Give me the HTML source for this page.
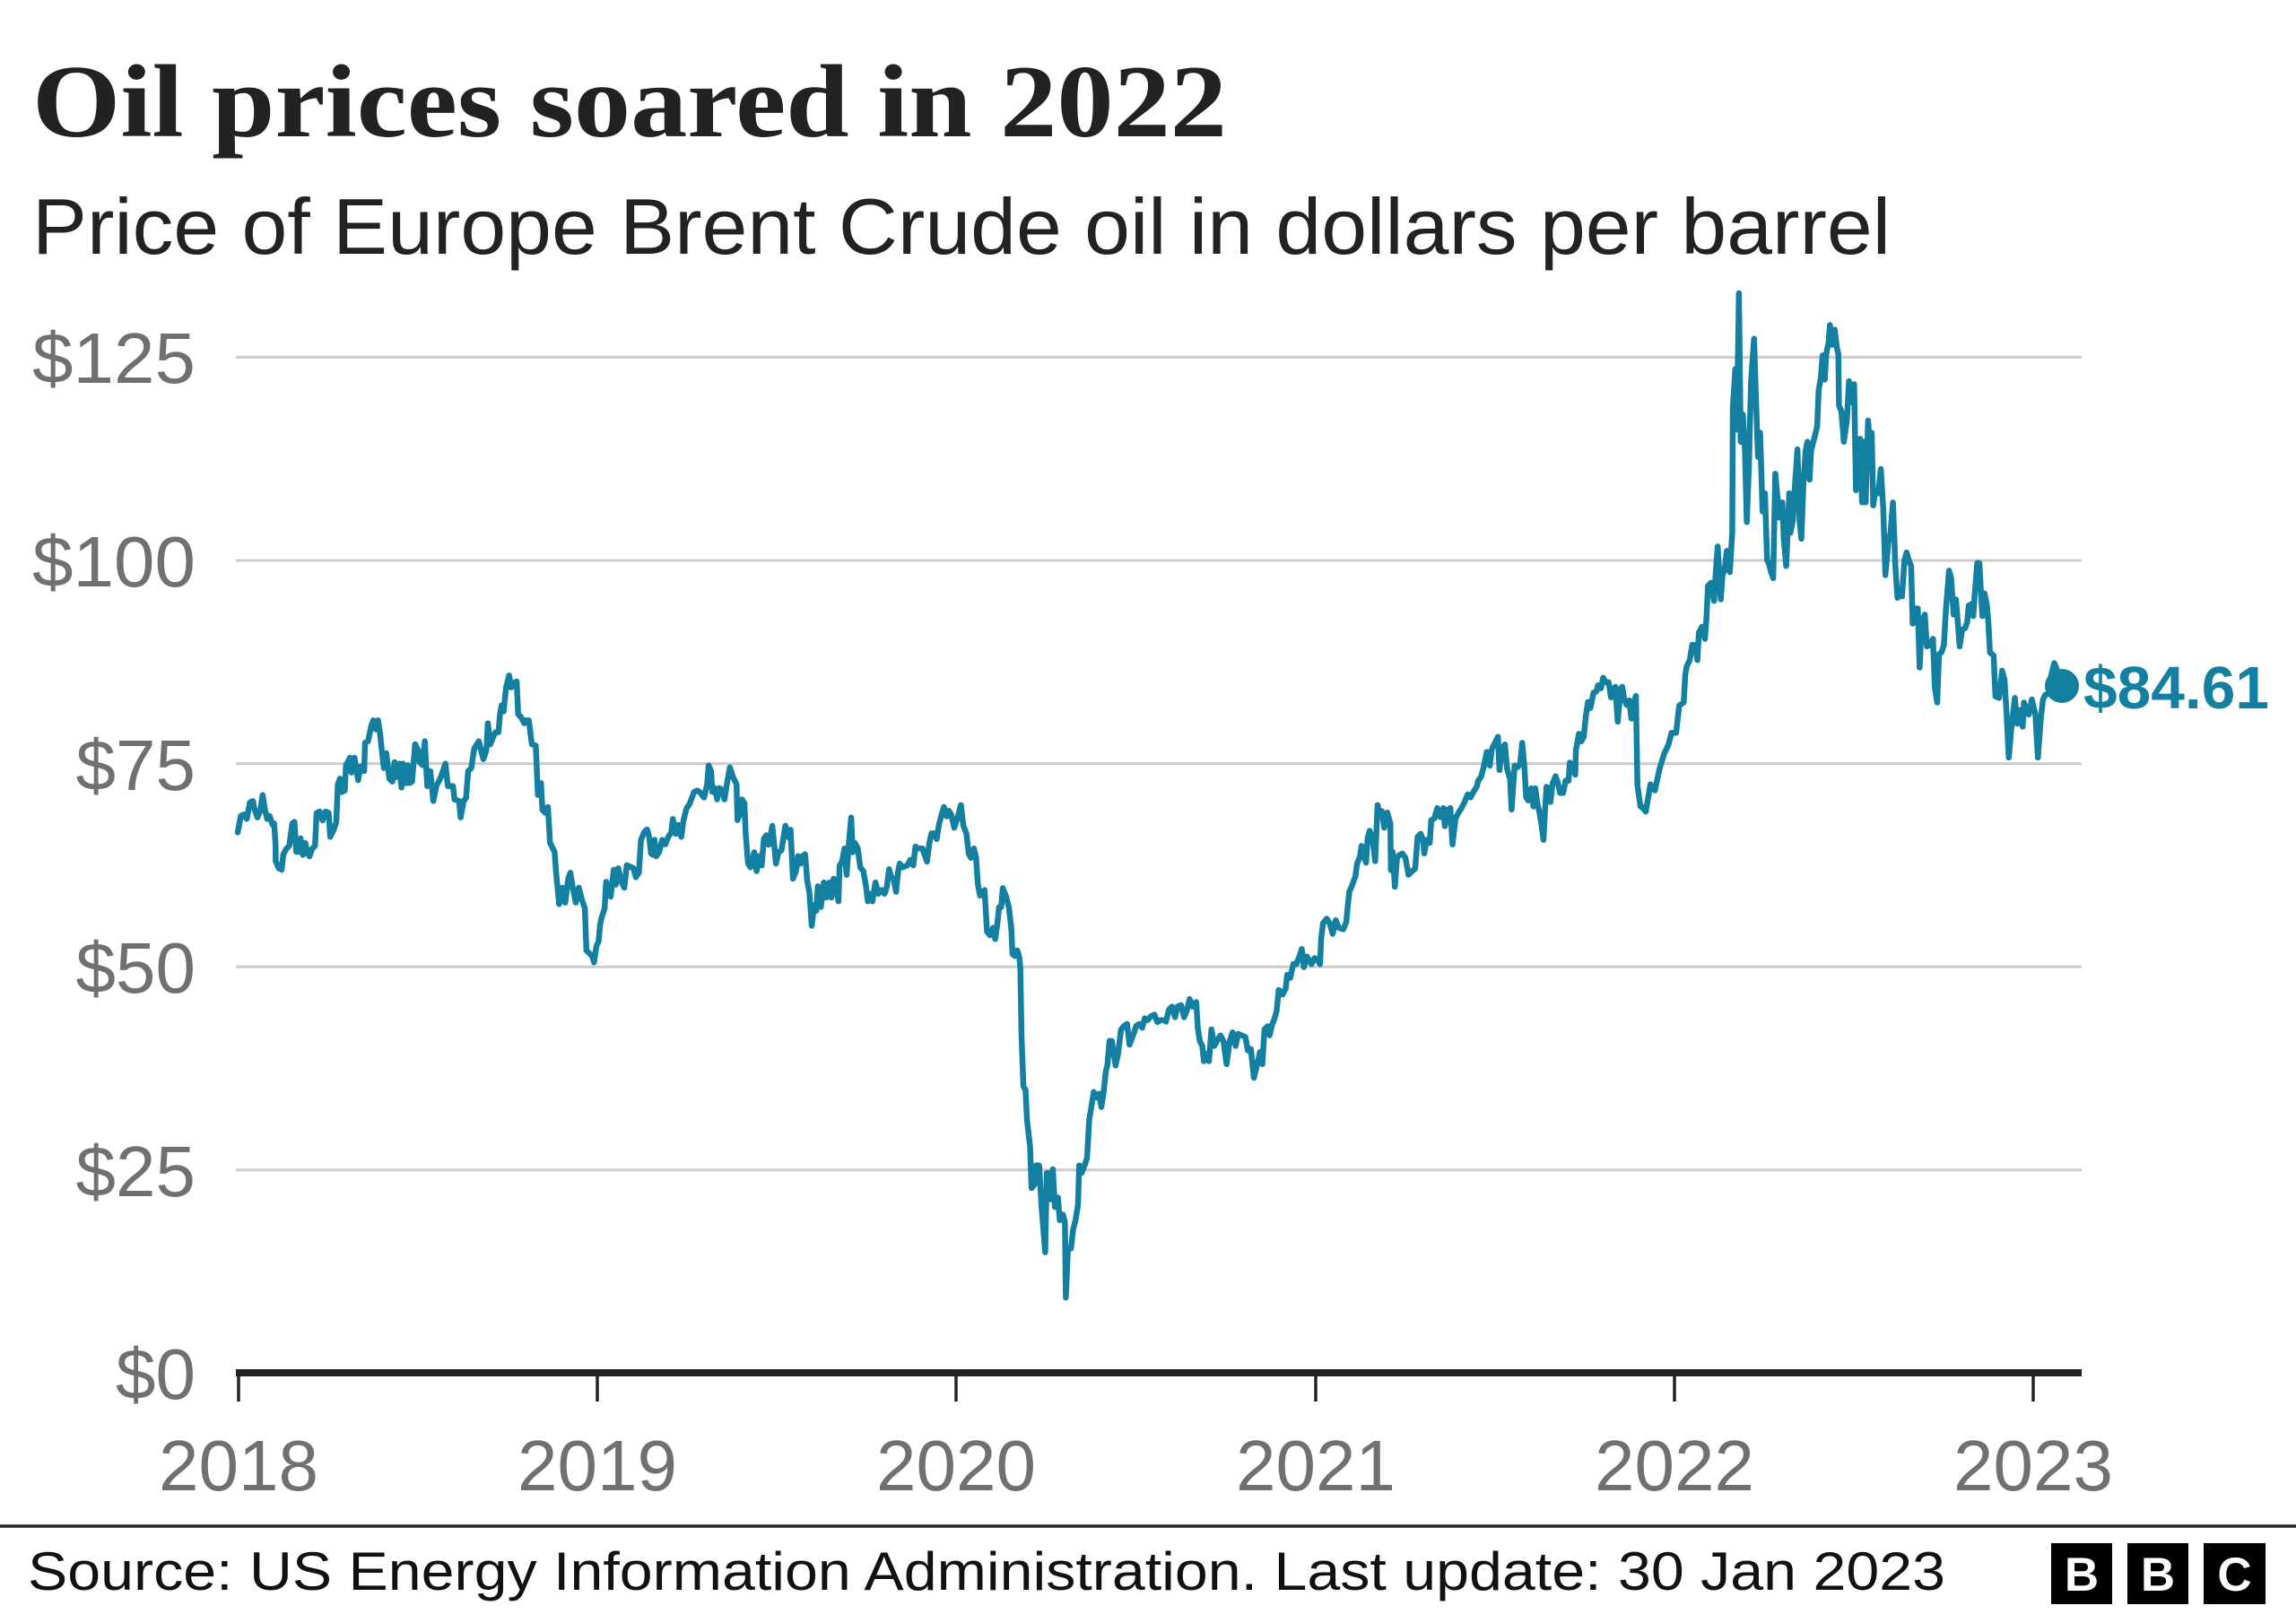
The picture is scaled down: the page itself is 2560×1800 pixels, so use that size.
<!DOCTYPE html>
<html>
<head>
<meta charset="utf-8">
<style>
  html, body { margin: 0; padding: 0; background: #ffffff; }
  body { width: 2560px; height: 1800px; overflow: hidden; }
  svg { display: block; }
</style>
</head>
<body>
<svg width="2560" height="1800" viewBox="0 0 2560 1800" xmlns="http://www.w3.org/2000/svg">
  <rect x="0" y="0" width="2560" height="1800" fill="#ffffff"/>

  <!-- Title & subtitle -->
  <text x="36" y="152" font-family="'Liberation Serif', serif" font-weight="bold" font-size="116" fill="#222222" textLength="1332" lengthAdjust="spacingAndGlyphs">Oil prices soared in 2022</text>
  <text x="36" y="283" font-family="'Liberation Sans', sans-serif" font-size="88" fill="#222222" textLength="2072" lengthAdjust="spacingAndGlyphs">Price of Europe Brent Crude oil in dollars per barrel</text>

  <!-- Gridlines -->
  <g stroke="#cccccc" stroke-width="3">
    <line x1="263" y1="398.4" x2="2321" y2="398.4"/>
    <line x1="263" y1="625" x2="2321" y2="625"/>
    <line x1="263" y1="851.6" x2="2321" y2="851.6"/>
    <line x1="263" y1="1078.2" x2="2321" y2="1078.2"/>
    <line x1="263" y1="1304.8" x2="2321" y2="1304.8"/>
  </g>

  <!-- Y labels -->
  <g font-family="'Liberation Sans', sans-serif" font-size="80" fill="#707070" text-anchor="end">
    <text x="218" y="427" textLength="182" lengthAdjust="spacingAndGlyphs">$125</text>
    <text x="218" y="654" textLength="182" lengthAdjust="spacingAndGlyphs">$100</text>
    <text x="218" y="881">$75</text>
    <text x="218" y="1107">$50</text>
    <text x="218" y="1334">$25</text>
    <text x="218" y="1560">$0</text>
  </g>

  <!-- Series -->
  <g fill="none" stroke="#1380A1" stroke-width="6.5" stroke-linejoin="round" stroke-linecap="round">
    <polyline vector-effect="non-scaling-stroke" transform="translate(260,720) scale(0.33807,0.33333)" points="15,625 25,570 35,565 45,580 55,525 65,520 70,545 80,575 90,550 97,500 105,550 112,580 120,570 130,600 135,595 140,670 140,720 150,745 160,750 165,700 175,680 185,670 195,595 202,590 208,690 215,690 222,645 230,700 238,660 245,695 252,705 260,680 270,670 275,560 285,555 295,585 305,555 315,560 320,640 330,620 340,590 345,465 352,445 358,490 368,485 372,400 385,375 390,425 400,375 412,450 420,405 432,420 435,325 445,320 455,270 462,250 470,280 478,250 485,300 490,350 497,410 505,360 515,445 525,455 532,390 540,440 548,395 555,475 560,395 570,460 575,400 582,460 590,455 600,330 610,350 615,390 625,400 632,320 640,470 650,420 660,520 670,470 685,440 700,395 708,470 718,470 725,470 730,515 745,520 750,575 760,520 768,510 775,420 785,410 795,345 810,320 825,380 835,350 840,260 848,330 858,305 865,290 875,290 880,230 885,200 892,220 900,140 910,100 917,140 925,125 935,120 940,230 950,240 960,260 965,250 975,250 985,330 998,335 1005,500 1015,460 1020,550 1030,560 1038,540 1045,660 1050,670 1060,690 1065,760 1075,865 1085,810 1095,860 1105,780 1112,760 1120,810 1130,860 1140,810 1150,850 1160,880 1162,940 1165,1020 1175,1030 1185,1040 1190,1060 1198,1005 1205,990 1210,935 1215,910 1225,880 1230,790 1238,830 1245,840 1255,750 1262,800 1270,745 1280,790 1290,810 1298,735 1310,740 1320,745 1328,775 1338,760 1345,650 1355,625 1365,615 1372,640 1378,695 1385,700 1390,650 1395,705 1405,690 1415,650 1425,665 1435,640 1445,625 1450,580 1460,630 1468,600 1478,640 1485,585 1495,545 1505,530 1520,490 1530,485 1538,489"/>
    <polyline vector-effect="non-scaling-stroke" transform="translate(780,820) scale(0.33807,0.42088)" points="0,150 15,165 25,130 30,80 38,95 42,150 50,140 58,170 65,140 75,145 82,170 90,130 100,85 110,110 122,130 125,225 135,205 140,170 148,180 152,260 160,340 168,350 175,330 180,310 188,360 195,320 205,345 212,275 220,265 228,290 240,240 252,340 260,310 270,305 283,240 292,270 300,250 308,380 318,360 325,320 333,340 340,320 348,315 355,385 362,415 370,505 378,450 385,465 390,400 400,455 410,390 418,430 428,390 435,430 442,380 450,395 458,440 462,345 470,335 478,300 485,370 492,290 500,218 505,310 512,285 522,300 530,350 540,360 548,395 555,440 562,420 570,440 580,390 590,420 600,410 610,420 618,400 625,355 632,375 640,380 648,415 655,360 660,340 670,350 685,345 695,330 705,345 712,295 722,300 735,300 750,335 758,285 765,260 775,260 782,275 790,235 800,205 806,190 815,215 822,200 830,210 840,245 852,215 862,185 870,240 880,260 888,315 895,325 905,300 912,325 918,395 925,425 935,415 940,410 948,520 958,530 968,510 975,540 982,500 988,455 995,455 1000,405 1010,425 1020,455 1028,510 1032,580 1040,585 1048,570 1055,590 1058,620 1062,800 1068,930 1075,940 1080,1020 1090,1090 1095,1200 1105,1190 1110,1140 1120,1140 1128,1250 1140,1370 1145,1160 1152,1160 1158,1230 1165,1150 1172,1250 1182,1225 1188,1285 1198,1270 1205,1290 1208,1490 1215,1360 1225,1360 1232,1310 1240,1285 1248,1245 1252,1140 1260,1160 1270,1140 1278,1120 1285,1020 1295,970 1300,945 1310,960 1318,950 1325,985 1332,950 1340,890 1345,875 1352,810 1360,810 1365,840 1372,875 1380,845 1390,780 1400,770 1410,765 1418,820 1425,805 1432,790 1440,770 1450,765 1460,775 1468,750 1478,755 1488,745 1500,740 1510,760 1520,755 1535,755 1538,758"/>
    <polyline vector-effect="non-scaling-stroke" transform="translate(1300,700) scale(0.33807,0.33807)" points="0,1300 10,1260 20,1250 30,1285 38,1250 50,1245 60,1285 70,1260 78,1225 88,1250 100,1235 105,1320 112,1365 120,1380 125,1430 135,1405 142,1430 150,1325 160,1380 170,1360 180,1345 190,1365 200,1440 210,1365 220,1335 230,1380 238,1340 250,1345 262,1350 270,1395 280,1390 290,1485 300,1445 310,1400 318,1440 325,1325 335,1315 342,1345 350,1310 358,1290 365,1265 372,1195 385,1210 395,1190 400,1145 410,1155 420,1110 430,1110 440,1085 448,1060 455,1120 465,1085 480,1110 490,1090 500,1095 508,1110 512,1025 518,975 530,960 540,975 550,1010 560,965 570,990 585,995 595,970 600,915 605,870 612,855 625,820 630,780 640,755 645,720 650,745 660,775 665,695 672,670 682,700 690,770 698,585 705,620 712,605 720,660 730,610 740,645 742,800 748,740 755,855 762,760 770,750 780,745 790,760 800,815 810,805 822,795 830,690 840,680 848,700 852,745 860,700 870,710 875,635 885,630 895,595 905,625 915,595 920,655 930,600 938,595 945,715 955,630 965,610 975,595 985,575 995,550 1005,560 1015,540 1025,525 1030,505 1040,490 1048,460 1058,410 1068,455 1075,400 1085,380 1095,360 1100,470 1108,400 1118,385 1125,465 1135,500 1140,600 1150,455 1160,460 1168,450 1175,380 1182,455 1188,560 1195,570 1205,530 1212,590 1218,530 1225,580 1232,610 1240,660 1245,700 1250,610 1255,525 1262,530 1268,575 1275,515 1285,490 1292,510 1300,545 1310,545 1318,505 1328,505 1332,445 1340,460 1350,485 1352,405 1362,350 1370,375 1378,360 1385,290 1392,245 1400,265 1410,215 1420,210 1425,190 1435,200 1442,165 1450,180 1460,180 1468,230 1475,205 1482,195 1490,310 1500,200 1505,195 1512,240 1520,255 1528,240 1535,300 1540,260 1550,225 1555,520 1565,590"/>
    <polyline vector-effect="non-scaling-stroke" transform="translate(1830,300) scale(0.33807,0.33807)" points="0,1772 15,1790 30,1700 45,1720 60,1650 75,1600 90,1568 100,1530 115,1530 125,1440 140,1430 145,1340 150,1310 160,1290 168,1240 178,1240 185,1290 190,1200 200,1180 210,1220 215,1150 220,1045 230,1035 240,1095 245,1010 252,915 262,1090 268,1010 275,990 282,930 292,1000 300,870 302,460 310,330 315,530 322,80 328,570 335,480 342,600 348,835 355,650 362,370 372,230 378,420 385,620 392,540 400,800 408,740 415,960 422,975 428,1000 435,1020 442,675 450,760 455,820 465,770 470,890 478,980 488,740 492,870 500,830 505,740 515,595 522,830 528,890 535,700 542,600 548,570 555,695 560,600 570,560 580,520 585,400 592,360 598,285 605,365 610,280 618,240 622,185 630,250 638,200 645,260 650,280 652,450 660,470 668,570 678,500 685,370 695,440 702,380 708,730 715,620 722,560 728,770 735,570 740,770 748,500 755,600 760,540 765,780 772,730 782,740 790,660 798,790 805,1010 815,900 822,870 830,770 838,980 845,1085 852,1060 860,1080 868,960 875,935 882,960 890,980 895,1170 905,1120 912,1120 918,1315 925,1165 935,1140 942,1245 952,1240 962,1220 968,1380 976,1430 982,1270 990,1265 998,1240 1005,1120 1015,995 1022,1020 1030,1140 1038,1090 1045,1180 1050,1245 1058,1190 1068,1185 1075,1165 1080,1110 1090,1105 1095,1145 1100,1070 1108,970 1115,970 1120,1060 1125,1145 1132,1070 1140,1110 1145,1170 1150,1265 1162,1275 1168,1410 1180,1415 1190,1325 1198,1355 1205,1470 1212,1612 1220,1520 1232,1415 1240,1500 1248,1455 1258,1510 1262,1430 1270,1450 1278,1470 1288,1420 1300,1470 1308,1612 1318,1480 1325,1420 1332,1405 1345,1400 1352,1340 1362,1300 1370,1320 1387,1373"/>
  </g>
  <circle cx="2299" cy="765" r="19" fill="#1380A1"/>
  <text x="2323" y="790" font-family="'Liberation Sans', sans-serif" font-weight="bold" font-size="67" fill="#1380A1" textLength="207" lengthAdjust="spacingAndGlyphs">$84.61</text>

  <!-- X axis -->
  <line x1="263" y1="1531" x2="2321" y2="1531" stroke="#222222" stroke-width="8"/>
  <g stroke="#222222" stroke-width="3.5">
    <line x1="266" y1="1531" x2="266" y2="1563"/>
    <line x1="666" y1="1531" x2="666" y2="1563"/>
    <line x1="1066" y1="1531" x2="1066" y2="1563"/>
    <line x1="1467" y1="1531" x2="1467" y2="1563"/>
    <line x1="1867" y1="1531" x2="1867" y2="1563"/>
    <line x1="2267" y1="1531" x2="2267" y2="1563"/>
  </g>
  <g font-family="'Liberation Sans', sans-serif" font-size="80" fill="#707070" text-anchor="middle">
    <text x="266" y="1662">2018</text>
    <text x="666" y="1662">2019</text>
    <text x="1066" y="1662">2020</text>
    <text x="1467" y="1662">2021</text>
    <text x="1867" y="1662">2022</text>
    <text x="2267" y="1662">2023</text>
  </g>

  <!-- Footer -->
  <line x1="0" y1="1702" x2="2560" y2="1702" stroke="#222222" stroke-width="3.5"/>
  <text x="31" y="1773" font-family="'Liberation Sans', sans-serif" font-size="60" fill="#111111" textLength="2138" lengthAdjust="spacingAndGlyphs">Source: US Energy Information Administration. Last update: 30 Jan 2023</text>

  <!-- BBC logo -->
  <g>
    <rect x="2287" y="1721" width="68" height="68" fill="#000000"/>
    <rect x="2372" y="1721" width="68" height="68" fill="#000000"/>
    <rect x="2457" y="1721" width="69" height="68" fill="#000000"/>
    <g font-family="'Liberation Sans', sans-serif" font-weight="bold" font-size="53" fill="#ffffff" text-anchor="middle">
      <text x="2321" y="1774">B</text>
      <text x="2406" y="1774">B</text>
      <text x="2491.5" y="1774">C</text>
    </g>
  </g>
</svg>
</body>
</html>
